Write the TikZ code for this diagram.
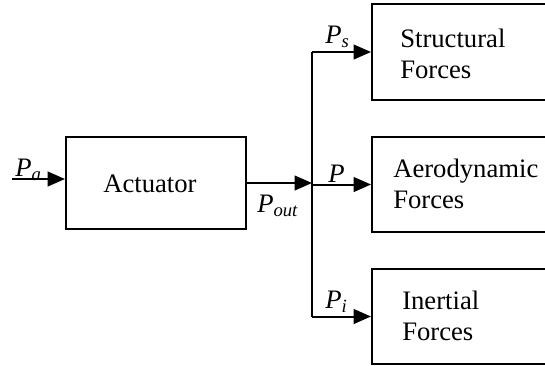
\documentclass[tikz,border=0pt]{standalone}
\usepackage{fontspec}
\setmainfont{Liberation Serif}
\usetikzlibrary{arrows.meta}
\newcommand{\sig}[2]{\textit{P}\textsubscript{\textit{#2}}}
\begin{document}
\begin{tikzpicture}[x=0.75pt,y=-0.75pt,
  box/.style={draw,line width=1.5pt,rectangle,inner sep=0pt},
  lab/.style={anchor=base west,inner sep=0pt,font=\fontsize{20}{23.25}\selectfont,align=left},
  ln/.style={line width=1.5pt},
  arr/.style={line width=1.5pt,-{Triangle[length=13pt,width=11pt]}}]
\useasboundingbox (0,0) rectangle (545,365);
\clip (0,0) rectangle (545,365);
% boxes
\node[box,minimum width=135pt,minimum height=69pt] (act) at (156,183) {};
\node[box,minimum width=141pt,minimum height=72pt] (sbox) at (466,52) {};
\node[box,minimum width=141pt,minimum height=71.25pt] (abox) at (466,184.5) {};
\node[box,minimum width=141pt,minimum height=71.25pt] (ibox) at (466,316.5) {};
% texts
\node[lab] (acttxt) at (103,192) {Actuator};
\node[lab] (stxt) at (400,78) {Structural\\Forces};
\node[lab] (atxt) at (393,208) {Aerodynamic\\Forces};
\node[lab] (itxt) at (402,340) {Inertial\\Forces};
% coordinates
\coordinate (in) at (12,179);
\coordinate (j) at (312,183);
\coordinate (js) at (312,52);
\coordinate (ja) at (312,184.5);
\coordinate (ji) at (312,316.5);
% connectors
\draw[arr] (in) -- (in -| act.west);
\draw[arr] (act.east) -- (j);
\draw[ln] (js) -- (ji);
\draw[arr] (js) -- (sbox.west);
\draw[arr] (ja) -- (abox.west);
\draw[arr] (ji) -- (ibox.west);
% signal labels
\node[lab] (pa) at (15,176) {\sig{P}{a}};
\node[lab] (pout) at (257,212) {\sig{P}{out}};
\node[lab] (ps) at (325,43) {\sig{P}{s}};
\node[lab] (p) at (328,182) {\textit{P}};
\node[lab] (pi) at (325,308) {\sig{P}{i}};
\end{tikzpicture}
\end{document}
